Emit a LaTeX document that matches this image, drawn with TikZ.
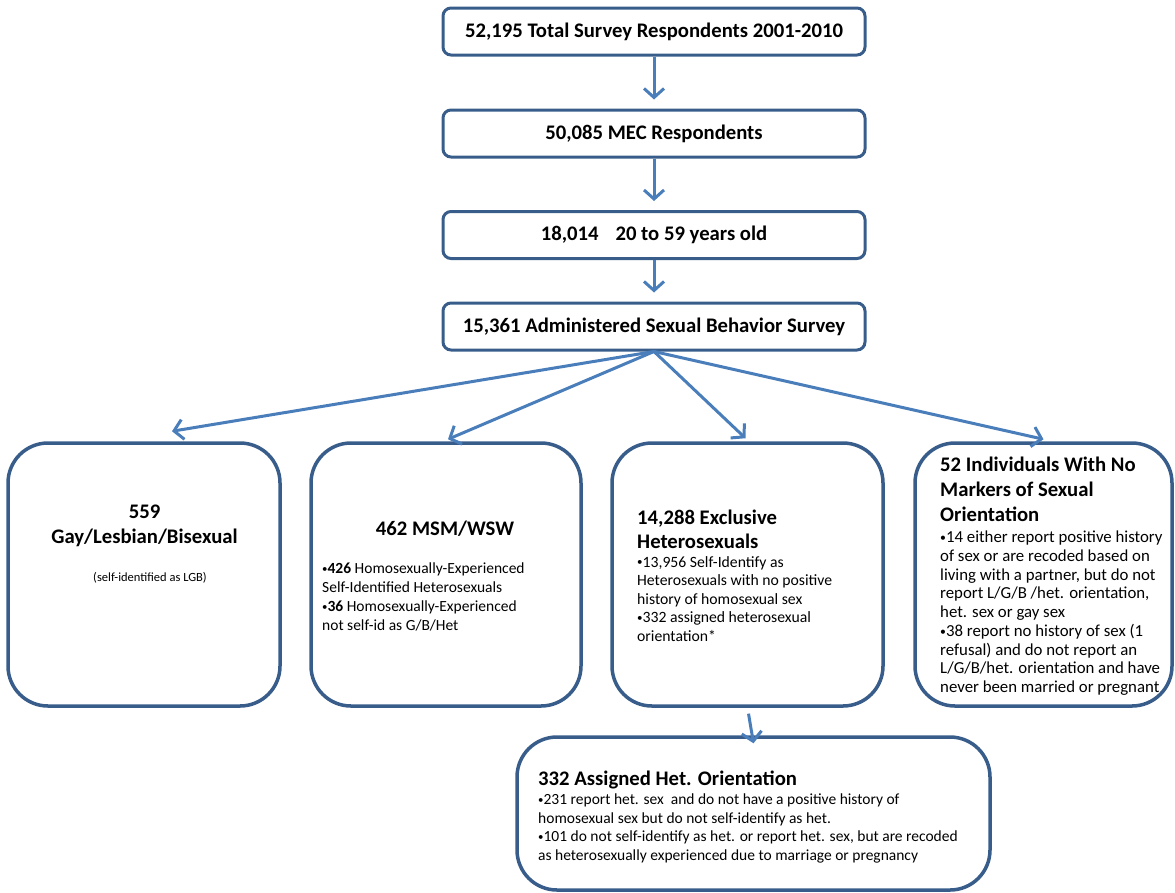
\documentclass[tikz,border=0pt]{standalone}
\usepackage{fontspec}
\setmainfont{Carlito}
\usetikzlibrary{arrows.meta}

\definecolor{boxblue}{HTML}{385D8A}
\definecolor{arrowblue}{HTML}{4A7EBB}

% small bullet as in the reference
\newcommand{\bul}{\raisebox{0.15ex}{\scalebox{0.7}{•}}}

\tikzset{
  flowbox/.style={draw=boxblue, line width=3pt, rounded corners=8pt,
    minimum width=422pt, minimum height=47pt, inner sep=0pt,
    font=\fontsize{20.7}{24}\selectfont\bfseries},
  groupbox/.style={draw=boxblue, line width=3.5pt, rounded corners=40pt, inner sep=0pt},
  flowarrow/.style={draw=arrowblue, line width=3pt,
    -{Straight Barb[length=9pt,width=20pt,line width=3pt]}},
  headtext/.style={inner sep=0pt, align=left, font=\fontsize{20.7}{24}\selectfont\bfseries},
  bodytext/.style={inner sep=0pt, align=left, font=\fontsize{15.7}{18.5}\selectfont}
}

\begin{document}
\begin{tikzpicture}[x=1pt, y=-1pt]
    \useasboundingbox (0, 0) rectangle (1175, 892);
    % top chain of boxes
    \node [flowbox] (total) at (654, 31.5) {52,195 Total Survey Respondents 2001-2010};
    \node [flowbox] (mec) at (654, 133.5) {50,085 MEC Respondents};
    \node [flowbox] (age) at (654, 235) {18,014\hspace{17pt}20 to 59 years old};
    \node [flowbox] (survey) at (654, 326.5) {15,361 Administered Sexual Behavior Survey};
    % arrows down the chain
    \draw [flowarrow, shorten >=9pt] (total) -- (mec);
    \draw [flowarrow, shorten >=9pt] (mec) -- (age);
    \draw [flowarrow, shorten >=9pt] (age) -- (survey);
    % four groups
    \node [groupbox, minimum width=272pt, minimum height=263pt] (lgb) at (144, 574.5) {};
    \node [groupbox, minimum width=270pt, minimum height=263pt] (msm) at (446, 574.5) {};
    \node [groupbox, minimum width=271pt, minimum height=263pt] (het) at (747.5, 574.5) {};
    \node [groupbox, minimum width=257pt, minimum height=263pt] (nomark) at (1043.5, 574.5) {};
    % assigned orientation box
    \node [groupbox, minimum width=473pt, minimum height=153pt] (assigned) at (753.5, 813.5) {};
    % arrows to the groups
    \draw [flowarrow] (survey.south) -- ([shift={(28,-10)}]lgb.north);
    \draw [flowarrow] (survey.south) -- ([shift={(2,-2)}]msm.north);
    \draw [flowarrow] (survey.south) -- ([shift={(-2,-3)}]het.north);
    \draw [flowarrow] (survey.south) -- ([shift={(0,-2)}]nomark.north);
    \draw [flowarrow, shorten <=6pt] (het.south) -- ([shift={(0,8)}]assigned.north);
    % group texts
    \node [headtext, align=center, anchor=north, font=\fontsize{20.7}{24.5}\selectfont\bfseries]
      (lgbhead) at (144.5, 505) {559\\Gay/Lesbian/Bisexual};
    \node [inner sep=0pt, font=\fontsize{12.5}{15}\selectfont] (lgbbody) at (150, 578) {(self-identified as LGB)};
    \node [headtext, anchor=north] (msmhead) at (445, 521) {462 MSM/WSW};
    \node [bodytext, font=\fontsize{15.5}{18.7}\selectfont, anchor=north west] (msmbody) at (322, 563)
      {\bul\textbf{426} Homosexually-Experienced\\Self-Identified Heterosexuals\\\bul\textbf{36} Homosexually-Experienced\\not self-id as G/B/Het};
    \node [headtext, font=\fontsize{20.7}{23.5}\selectfont\bfseries, anchor=north west] (hethead) at (637, 510)
      {14,288 Exclusive\\Heterosexuals};
    \node [bodytext, anchor=north west] (hetbody) at (637, 556)
      {\bul13,956 Self-Identify as\\Heterosexuals with no positive\\history of homosexual sex\\\bul332 assigned heterosexual\\orientation*};
    \node [headtext, font=\fontsize{20.7}{25}\selectfont\bfseries, anchor=north west] (nomarkhead) at (940, 457)
      {52 Individuals With No\\Markers of Sexual\\Orientation};
    \node [bodytext, font=\fontsize{16.8}{18.7}\selectfont, anchor=north west] (nomarkbody) at (940, 531)
      {\bul14 either report positive history\\of sex or are recoded based on\\living with a partner, but do not\\report L/G/B /het. orientation,\\het. sex or gay sex\\\bul38 report no history of sex (1\\refusal) and do not report an\\L/G/B/het. orientation and have\\never been married or pregnant};
    \node [headtext, anchor=north west] (assignedhead) at (538, 771) {332 Assigned Het. Orientation};
    \node [bodytext, font=\fontsize{15.5}{18.5}\selectfont, anchor=north west] (assignedbody) at (538, 794)
      {\bul231 report het. sex\ \ and do not have a positive history of\\homosexual sex but do not self-identify as het.\\\bul101 do not self-identify as het. or report het. sex, but are recoded\\as heterosexually experienced due to marriage or pregnancy};
\end{tikzpicture}
\end{document}
